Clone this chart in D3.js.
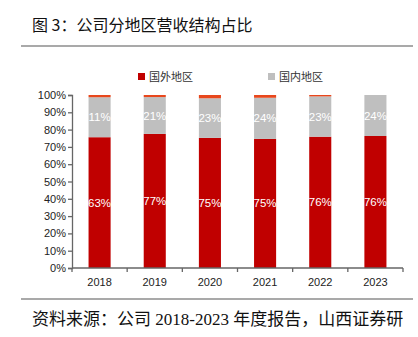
<!DOCTYPE html>
<html lang="zh">
<head>
<meta charset="utf-8">
<title>公司分地区营收结构占比</title>
<script src="https://cdn.jsdelivr.net/npm/d3@7/dist/d3.min.js"></script>
<style>
  body { margin: 0; background: #fff; }
  svg { display: block; }
</style>
</head>
<body>
<svg width="418" height="337"></svg>
<script>
// data
var years = ['2018', '2019', '2020', '2021', '2022', '2023'];
var overseas = [75.6, 77.5, 75.2, 74.6, 75.9, 76.3];   // 国外地区
var domestic = [23.1, 21.3, 22.9, 23.8, 23.3, 23.7];   // 国内地区
var other = [1.3, 1.2, 1.9, 1.6, 0.8, 0.0];             // thin top slice, no legend
var overseasLabels = ['63%', '77%', '75%', '75%', '76%', '76%'];
var domesticLabels = ['11%', '21%', '23%', '24%', '23%', '24%'];
var yTicks = [0, 10, 20, 30, 40, 50, 60, 70, 80, 90, 100];

var svg = d3.select('svg');
var sans = 'Arial, "Liberation Sans", sans-serif';
var cjk = '"Noto Sans CJK SC", sans-serif';

// title + rules
svg.append('text')
    .attr('x', 32).attr('y', 31)
    .style('font-family', cjk).style('font-size', '16px').style('fill', '#111')
    .text('图 3：公司分地区营收结构占比');
svg.append('line').attr('x1', 21).attr('x2', 413).attr('y1', 46).attr('y2', 46)
    .style('stroke', '#8c8c8c').style('stroke-width', 1.5);
svg.append('line').attr('x1', 21).attr('x2', 413).attr('y1', 299).attr('y2', 299)
    .style('stroke', '#8c8c8c').style('stroke-width', 1.5);
svg.append('text')
    .attr('x', 32).attr('y', 325)
    .style('font-family', '"Liberation Serif", "Noto Sans CJK SC", serif')
    .style('font-size', '17px').style('fill', '#111')
    .text('资料来源：公司 2018-2023 年度报告，山西证券研');

// scales
var x = d3.scaleBand().domain(years).range([72, 403]).paddingInner(0.6).paddingOuter(0.3);
var y = d3.scaleLinear().domain([0, 100]).range([268, 95]);

var rows = years.map(function(yr, i) {
    return { year: yr, overseas: overseas[i], domestic: domestic[i], other: other[i] };
});
var keys = ['overseas', 'domestic', 'other'];
var colors = { overseas: '#c00000', domestic: '#bfbfbf', other: '#e8471c' };
var series = d3.stack().keys(keys)(rows);

svg.append('g').selectAll('g')
    .data(series)
    .join('g')
    .style('fill', function(d) { return colors[d.key]; })
    .selectAll('rect')
    .data(function(d) { return d; })
    .join('rect')
    .attr('x', function(d) { return x(d.data.year); })
    .attr('width', x.bandwidth())
    .attr('y', function(d) { return y(d[1]); })
    .attr('height', function(d) { return y(d[0]) - y(d[1]); });

// value labels
var labelSets = [[series[0], overseasLabels], [series[1], domesticLabels]];
labelSets.forEach(function(pair) {
    svg.append('g').selectAll('text')
        .data(pair[0])
        .join('text')
        .attr('x', function(d) { return x(d.data.year) + x.bandwidth() / 2; })
        .attr('y', function(d) { return (y(d[0]) + y(d[1])) / 2 + 4; })
        .attr('text-anchor', 'middle')
        .style('font-family', sans).style('font-size', '11.5px').style('fill', '#fff')
        .text(function(d, i) { return pair[1][i]; });
});

// y axis
var yAxis = svg.append('g')
    .attr('transform', 'translate(72,0)')
    .call(d3.axisLeft(y).tickValues(yTicks).tickSize(4).tickFormat(function(d) { return d + '%'; }));
yAxis.select('.domain').style('stroke', '#666').style('stroke-width', 1.3);
yAxis.selectAll('line').style('stroke', '#666').style('stroke-width', 1.3);
yAxis.selectAll('text').style('font-family', sans).style('font-size', '11px').style('fill', '#222')
    .attr('x', -6);

// x axis: line with ticks between categories
var xAxis = svg.append('g').attr('transform', 'translate(0,268)');
xAxis.append('line').attr('x1', 72).attr('x2', 403)
    .style('stroke', '#666').style('stroke-width', 1.5);
xAxis.selectAll('line.tick')
    .data(d3.range(years.length + 1))
    .join('line')
    .attr('class', 'tick')
    .attr('x1', function(i) { return 72 + i * (331 / years.length); })
    .attr('x2', function(i) { return 72 + i * (331 / years.length); })
    .attr('y1', 0).attr('y2', 4)
    .style('stroke', '#666').style('stroke-width', 1.3);
xAxis.selectAll('text')
    .data(years)
    .join('text')
    .attr('x', function(d) { return x(d) + x.bandwidth() / 2; })
    .attr('y', 18)
    .attr('text-anchor', 'middle')
    .style('font-family', sans).style('font-size', '11px').style('fill', '#222')
    .text(function(d) { return d; });

// legend
var legend = [['国外地区', colors.overseas, 138], ['国内地区', colors.domestic, 268]];
legend.forEach(function(l) {
    svg.append('rect').attr('x', l[2]).attr('y', 73).attr('width', 7).attr('height', 7)
        .style('fill', l[1]);
    svg.append('text').attr('x', l[2] + 11).attr('y', 80.5)
        .style('font-family', cjk).style('font-size', '11px').style('fill', '#333')
        .text(l[0]);
});
</script>
</body>
</html>
